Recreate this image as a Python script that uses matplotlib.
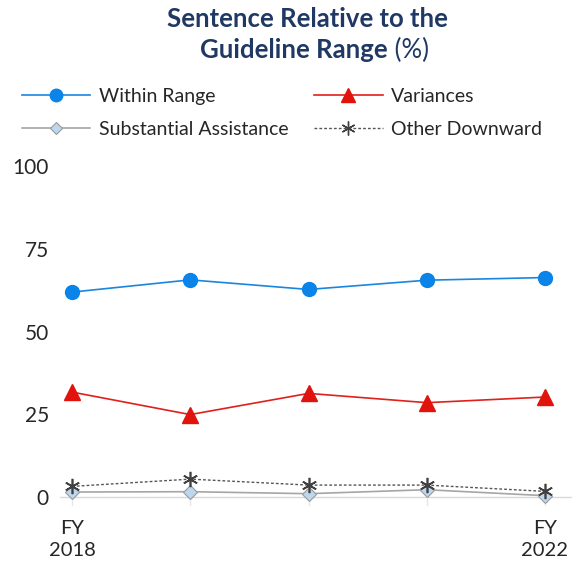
import matplotlib
matplotlib.use("Agg")
import matplotlib.pyplot as plt
from matplotlib.lines import Line2D
from matplotlib.text import Annotation

years = ["FY\n2018", "", "", "", "FY\n2022"]
within_range = [61.9, 65.6, 62.7, 65.5, 66.3]
variances = [31.7, 24.9, 31.3, 28.5, 30.2]
subst_assist = [1.5, 1.6, 1.0, 2.2, 0.4]
other_down = [3.2, 5.4, 3.6, 3.6, 1.7]
yticks = [0, 25, 50, 75, 100]

plt.rcParams['font.family'] = ['Lato', 'DejaVu Sans']

W, H = 580, 565
fig = plt.figure(figsize=(W/100, H/100), dpi=100)

# axes placement in pixels
x0_px, x4_px = 72, 545
ppu_x = (x4_px - x0_px) / 4
ax_l, ax_r = 60, 572
y0_px, y100_px = 497, 166
ppu_y = (y0_px - y100_px) / 100
ax_t, ax_b = 160, 508
ax = fig.add_axes([ax_l/W, 1 - ax_b/H, (ax_r-ax_l)/W, (ax_b-ax_t)/H])
ax.set_xlim(-(x0_px-ax_l)/ppu_x, 4 + (ax_r-x4_px)/ppu_x)
ax.set_ylim(-(ax_b-y0_px)/ppu_y, 100 + (y100_px-ax_t)/ppu_y)

x = list(range(len(years)))
ax.axhline(0, color='#d9d9d9', lw=1, zorder=0)
for xi in x:
    ax.plot([xi, xi], [0, -2.5], color='#e6e6e6', lw=1, zorder=0, clip_on=False)

ax.plot(x, within_range, color='#1a86e0', lw=1.2, marker='o', ms=10,
        mfc='#0a84e8', mec='#0a84e8', clip_on=False)
ax.plot(x, variances, color='#e0201a', lw=1.2, marker='^', ms=11,
        mfc='#e0140c', mec='#e0140c', clip_on=False)
ax.plot(x, subst_assist, color='#a6a6a6', lw=1.2, marker='D', ms=7,
        mfc='#bdd7ee', mec='#9a9a9a', mew=0.8, clip_on=False)
ax.plot(x, other_down, color='#555555', lw=1, ls=(0, (2, 1.5)), marker=(6, 2, 0), ms=11,
        mec='#404040', mew=1.2, clip_on=False)

for s in ax.spines.values():
    s.set_visible(False)
ax.set_xticks(x)
ax.set_xticklabels(years, fontsize=14.5, color='#262626', linespacing=1.3)
ax.set_yticks(yticks)
ax.set_yticklabels([str(v) for v in yticks], fontsize=15, color='#262626')
ax.tick_params(length=0)
ax.tick_params(axis='x', pad=9)
ax.tick_params(axis='y', pad=8)

fig.text(307/W, 1 - 19/H, "Sentence Relative to the", ha='center', va='center',
         fontsize=18.5, fontweight='bold', color='#1f3864')
t2 = fig.text(294/W, 1 - 50/H, "Guideline Range", ha='center', va='center',
              fontsize=18.5, fontweight='bold', color='#1f3864')
ann = Annotation(" (%)", xy=(1, 0.5), xycoords=t2, ha='left', va='center',
                 fontsize=18.5, color='#1f3864')
fig.add_artist(ann)

handles = [
    Line2D([], [], color='#1a86e0', lw=1.2, marker='o', ms=9, mfc='#0a84e8', mec='#0a84e8'),
    Line2D([], [], color='#a6a6a6', lw=1.2, marker='D', ms=6, mfc='#bdd7ee', mec='#9a9a9a', mew=0.8),
    Line2D([], [], color='#e0201a', lw=1.2, marker='^', ms=10, mfc='#e0140c', mec='#e0140c'),
    Line2D([], [], color='#555555', lw=1, ls=(0, (2, 1.5)), marker=(6, 2, 0), ms=10, mec='#404040', mew=1),
]
labels = ['Within Range', 'Substantial Assistance', 'Variances', 'Other Downward']
fig.legend(handles, labels, ncol=2, loc='center left', bbox_to_anchor=(14/W, 1 - 113/H),
           frameon=False, fontsize=14, handlelength=3.5, handletextpad=0.45,
           columnspacing=1.35, labelspacing=0.85, labelcolor='#262626', borderaxespad=0)

fig.savefig('out.png', dpi=100)
